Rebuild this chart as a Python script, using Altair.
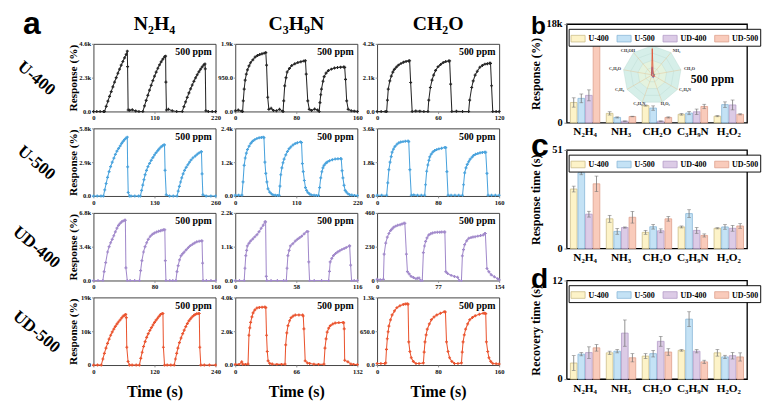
import altair as alt
import pandas as pd
import numpy as np

SERIF = "Liberation Serif"
SANS = "Liberation Sans"

ROWS = ["U-400", "U-500", "UD-400", "UD-500"]
COLS = ["N₂H₄", "C₃H₉N", "CH₂O"]
LINE_COLORS = ["#262626", "#4aa3dd", "#a28acb", "#ea5530"]
PPM = "500 ppm"

# ---- response curves: (time s, response %) ----
U400_N2H4 = [(0,0),(6,0),(12,0),(18,0),(20,0),(23,350),(26,700),(29,1030),(32,1350),(35,1680),(38,2000),(41,2300),(44,2600),(47,2880),(50,3150),(53,3400),(56,3650),(59,3880),(61,4100),(61.5,3050),(62.5,100),(65,80),(70,120),(76,40),(82,0),(89,0),(92,380),(95,750),(98,1100),(101,1450),(104,1780),(107,2100),(110,2400),(113,2680),(116,2940),(119,3170),(122,3380),(125,3560),(128,3720),(130,3760),(130.5,2000),(131.5,100),(135,150),(142,50),(150,0),(160,0),(163,330),(166,650),(169,960),(172,1260),(175,1540),(178,1800),(181,2050),(184,2290),(187,2500),(190,2700),(193,2880),(196,3040),(199,3180),(201,3230),(201.5,2900),(202.5,50),(207,0),(214,0),(220,0)]
U400_C3H9N = [(0,20),(4,40),(8,10),(9.6,0),(10.5,300),(11.7,630),(13,880),(14.5,1050),(16,1170),(18,1280),(20,1370),(23,1450),(26,1530),(29,1570),(32,1600),(35,1620),(38,1640),(40,1656),(41,1300),(42.5,400),(44,60),(47,90),(50,30),(54,20),(58,60),(62,10),(62.7,0),(63.5,300),(64.8,720),(66.5,950),(68,1110),(71,1210),(74,1290),(78,1340),(82,1375),(86,1400),(90,1420),(92,1425),(93,1050),(95,300),(97,60),(100,30),(104,70),(108,40),(110,0),(111,250),(112,470),(113,630),(115,850),(116.5,980),(119,1080),(122,1150),(126,1190),(130,1220),(134,1235),(138,1245),(142,1250),(143.4,1240),(144.5,900),(146,300),(148,60),(152,20),(156,10),(160,0)]
U400_CH2O = [(0,0),(4,0),(8,0),(9.4,0),(10.2,700),(11,1393),(12.5,1900),(14,2200),(15.5,2450),(17,2620),(19,2760),(21,2880),(23.5,2980),(26,3060),(28.5,3110),(31,3140),(32,3150),(33,1800),(34.5,0),(38,30),(42,20),(46,0),(50,0),(50.8,700),(52.4,1490),(54,1950),(55.6,2264),(57.5,2550),(60,2786),(62.5,2920),(65,3040),(67.5,3100),(70.3,3135),(71.3,3140),(72.3,1700),(73.5,0),(78,10),(84,0),(90,0),(91,700),(93,1490),(94.5,1900),(96.4,2264),(98.5,2500),(101,2748),(103.5,2860),(106,2941),(108.5,2970),(110.5,2990),(111.5,2990),(112.5,1600),(113.7,0),(117,0),(120,0)]
U500_N2H4 = [(0,0),(8,0),(16,0),(21.3,0),(24,520),(27,1070),(30,1600),(33.3,2094),(36.5,2520),(40,2900),(43.5,3250),(46.7,3571),(50,3850),(53.5,4080),(57,4300),(60,4510),(63,4680),(66,4830),(69,4950),(72,5048),(72.8,2500),(74,300),(76.7,0),(80,0),(88,0),(96,0),(100,0),(102.5,480),(105,940),(107.5,1400),(110,1826),(113,2200),(116,2520),(119.5,2800),(123,3060),(126.5,3300),(130,3520),(133.5,3720),(137,3900),(140,4050),(143.5,4200),(147,4310),(150,4376),(151.3,4380),(152.5,2200),(155,100),(162,0),(170,0),(178,0),(180.5,420),(183,820),(185.5,1200),(188,1557),(191,1900),(194,2200),(197.5,2460),(201,2680),(204.5,2900),(208,3100),(212,3280),(217,3437),(221,3580),(225,3700),(229,3786),(230,3800),(231.3,1900),(233,100),(240,0),(250,0),(260,0)]
U500_C3H9N = [(0,30),(6,30),(12,30),(14,500),(16,1088),(18,1350),(20,1520),(22,1650),(25,1770),(28,1870),(31,1940),(35,2000),(39,2040),(43,2065),(47,2080),(50.5,2087),(51.7,2070),(53.4,1200),(55,800),(57,500),(59,255),(62,140),(65,80),(68,40),(72,30),(76,20),(79,20),(80.5,350),(82,755),(84,1000),(86,1180),(88,1310),(91,1460),(94,1580),(97,1680),(100,1740),(104,1810),(108,1860),(112,1890),(117.6,1920),(119.4,1900),(121,1150),(122.5,866),(124.5,550),(126.5,300),(128.5,200),(131,120),(134,70),(137,40),(142,30),(146,20),(150,20),(152,300),(154,644),(156,860),(158,1000),(160,1090),(163,1160),(166,1210),(170,1254),(175,1290),(180,1310),(185,1320),(190,1332),(191,1310),(192.5,900),(194,644),(196,380),(198,200),(200,144),(203,80),(206,45),(210,33),(215,20),(220,15)]
U500_CH2O = [(0,40),(6,40),(12.6,40),(14,700),(15.5,1403),(17,1800),(18.5,2100),(19.7,2332),(21.5,2500),(23.5,2640),(26,2755),(28.5,2830),(31,2870),(34,2895),(37,2910),(40.6,2924),(41.5,2900),(43,1400),(44.8,40),(48,60),(53,40),(58,40),(62.4,40),(63.5,600),(65,1318),(66.5,1650),(68,1900),(69,2079),(71,2230),(73,2340),(75.4,2417),(78,2470),(81,2510),(84.5,2540),(88.8,2586),(90,2580),(91.5,1300),(93,40),(97,40),(102,40),(107,40),(112,40),(113.3,600),(114.8,1234),(116.5,1500),(118.2,1680),(120,1825),(122,1960),(124.5,2070),(126.5,2163),(129,2220),(132,2260),(135,2298),(138,2320),(141,2332),(142.4,2330),(144,1200),(145.4,40),(150,40),(155,40),(160,40)]
UD400_N2H4 = [(0,0),(6,0),(12.3,0),(14,900),(16,1800),(18.5,2871),(20.5,3400),(22.5,3800),(24.6,4147),(26.6,4500),(28.7,4900),(30.8,5263),(32.8,5550),(35,5750),(37,5901),(39,6000),(41,6061),(41.8,6061),(42.5,1276),(44.3,0),(48,0),(54,0),(60.3,0),(61.8,1000),(63.5,2000),(65.6,2871),(67.6,3400),(69.7,3800),(71.8,4147),(74.5,4450),(77.2,4650),(80,4785),(82.7,4880),(85.4,4950),(88,5008),(90,5060),(92,5104),(93.5,5104),(94.2,2000),(95,0),(100,0),(104,0),(108,0),(109.5,900),(111,1500),(112.8,2073),(114.8,2500),(116.9,2700),(119,2871),(121.7,3100),(124.4,3320),(127,3509),(129.8,3650),(132.6,3780),(135.4,3892),(138.5,3950),(141.5,3988),(142.3,3988),(143,1755),(143.6,0),(148,0),(154,0),(160,0)]
UD400_C3H9N = [(0,0),(4,0),(8.5,0),(9.2,400),(10,813),(10.8,980),(11.5,1126),(13,1210),(14.5,1283),(16.5,1350),(18.5,1420),(20.6,1491),(22.6,1590),(24.6,1700),(26.6,1800),(28.2,1909),(28.8,1909),(29.5,135),(30,0),(34,0),(40,0),(46,0),(48.5,0),(49.2,400),(50,813),(51.2,980),(52.4,1126),(54.7,1200),(57,1283),(59,1340),(61,1390),(63,1439),(65.5,1520),(68,1596),(69,1596),(69.8,605),(70.6,0),(75,0),(82,0),(88.7,0),(89.5,300),(90.2,605),(91.7,720),(93.3,813),(95.3,880),(97.3,930),(99.3,970),(101.3,1010),(103.4,1040),(105.4,1074),(108.4,1126),(108.7,1126),(109.6,500),(110.5,0),(113,0),(116,0)]
UD400_CH2O = [(0,8),(4,6),(8,8),(8.9,179),(10.9,255),(12.9,295),(14.9,320),(17,340),(19,352),(21,363),(23.5,370),(26,376),(29,380),(31.5,385),(33.9,389),(35,389),(37,179),(38.3,60),(40.5,45),(43,28),(46,20),(49,13),(51,15),(53,17),(55,0),(57,0),(58.4,190),(59.8,235),(61.2,266),(63,290),(65,309),(67.5,318),(70,324),(73,327),(76,328),(79,329),(81.5,330),(84.7,330),(85.5,330),(86.7,60),(89,48),(93.5,35),(97.5,28),(101.6,22),(103.6,0),(106.4,0),(107.6,168),(109,210),(110.4,244),(113,270),(115.7,287),(118.5,292),(121,296),(123.7,298),(127,302),(130.5,306),(133.8,309),(135.8,320),(136.6,320),(138.6,82),(141,60),(144,39),(148,25),(152,13),(154,5)]
UD500_N2H4 = [(0,0),(8,0),(15.4,0),(18.5,1700),(21.5,3300),(24.6,4770),(27.7,6100),(30.8,7300),(33.8,8370),(37,9300),(40,10100),(43,10850),(46,11520),(49,12100),(52.3,12650),(55.4,13230),(58.5,13770),(61,14000),(63.4,14220),(64.6,13320),(65.5,5000),(68,1000),(70.8,0),(76,0),(84,0),(90.4,0),(93,1900),(95.8,3600),(98.5,5220),(101.6,6600),(104.6,7800),(107.7,8820),(110.8,9700),(113.9,10500),(117,11250),(120,11970),(123,12600),(126,13150),(129,13700),(132,14220),(135,14490),(136.6,14490),(137.5,5000),(139.7,0),(145,0),(152,0),(158.8,0),(161.2,1700),(163.6,3300),(166,4770),(169,6300),(172.2,7600),(175.4,8820),(178.4,9800),(181.5,10800),(184.6,11650),(187.7,12420),(190.8,13000),(193.9,13500),(197,13900),(200,14220),(203,14400),(206,14490),(208,14490),(209,5000),(211,0),(218,0),(228,0),(240,0)]
UD500_C3H9N = [(0,40),(4,40),(7,190),(8,50),(11,40),(13.8,60),(14.8,1763),(15.7,2200),(16.6,2522),(18,2850),(19.3,3090),(21,3250),(23.4,3375),(26,3410),(29,3425),(32,3432),(33,3400),(33.8,1763),(34.6,800),(35.5,246),(37.3,95),(40,60),(45,40),(50,40),(53.8,50),(54.5,1194),(55.7,1900),(57,2332),(58.7,2620),(60.4,2806),(62.6,2900),(64.9,2958),(68.8,2965),(72.8,2958),(73.5,2900),(74.2,2142),(75.6,246),(78,120),(80.4,95),(85,50),(90,40),(95.9,50),(97,1005),(98.2,1550),(99.4,1953),(101,2180),(102.8,2332),(105.4,2430),(108,2483),(112,2510),(116.5,2522),(117.2,2500),(117.8,2142),(118.3,284),(121.8,190),(125,57),(128,40),(132,30)]
UD500_CH2O = [(0,30),(5,30),(10,30),(11.3,40),(12.3,300),(13.4,506),(14.5,640),(15.5,750),(17.6,870),(19.7,964),(22.8,1040),(26,1104),(30,1140),(34.3,1165),(37,1172),(39.4,1177),(40.6,1170),(41.5,445),(43,260),(44.8,140),(47.5,70),(51,30),(55,30),(60.7,40),(61.7,250),(62.8,445),(64.3,580),(65.8,689),(68.5,790),(71.2,872),(74.7,925),(78.3,964),(83,995),(88,1025),(89.6,1020),(91,445),(93,260),(95,140),(98,70),(101.4,30),(106,30),(110.6,40),(111.6,250),(112.7,445),(114.3,580),(116,689),(118.7,790),(121.5,872),(125,915),(128.6,946),(134,975),(139,994),(141,994),(142.4,990),(143.3,445),(145,260),(146.6,140),(149,70),(151.7,30),(156,25),(160,20)]

CURVES = [[U400_N2H4, U400_C3H9N, U400_CH2O],
          [U500_N2H4, U500_C3H9N, U500_CH2O],
          [UD400_N2H4, UD400_C3H9N, UD400_CH2O],
          [UD500_N2H4, UD500_C3H9N, UD500_CH2O]]

X_TICKS = [[[0,110,220],[0,80,160],[0,60,120]],
           [[0,130,260],[0,110,220],[0,80,160]],
           [[0,80,160],[0,58,116],[0,77,154]],
           [[0,120,240],[0,66,132],[0,80,160]]]
Y_TICKS = [[[0,2300,4600],[0,950,1900],[0,2100,4200]],
           [[0,2900,5800],[0,1200,2400],[0,1800,3600]],
           [[0,3400,6800],[0,1100,2200],[0,230,460]],
           [[0,9500,19000],[0,2000,4000],[0,650,1300]]]
Y_LABELS = [[["0.0","2.3k","4.6k"],["0.0","950.0","1.9k"],["0.0","2.1k","4.2k"]],
            [["0.0","2.9k","5.8k"],["0.0","1.2k","2.4k"],["0.0","1.8k","3.6k"]],
            [["0.0","3.4k","6.8k"],["0.0","1.1k","2.2k"],["0","230","460"]],
            [["0","10k","19k"],["0.0","2.0k","4.0k"],["0.0","650.0","1.3k"]]]

# ---- bar panels ----
GASES = ["N₂H₄", "NH₃", "CH₂O", "C₃H₉N", "H₂O₂"]
SERIES = ROWS
BAR_FILLS = ["#fdf3c8", "#c4e2f5", "#dccbe6", "#f9cbbb"]
BAR_EDGES = ["#c9bb85", "#86b4d6", "#b19ac6", "#dc9d8a"]

RESP = {"U-400": [3700, 1710, 3140, 1540, 1200],
        "U-500": [4450, 970, 2680, 1770, 3310],
        "UD-400": [5000, 290, 290, 2000, 3250],
        "UD-500": [14280, 1140, 970, 2970, 1540]}
RESP_ERR = {"U-400": [850, 300, 100, 150, 100],
            "U-500": [800, 100, 400, 300, 500],
            "UD-400": [1000, 50, 50, 500, 900],
            "UD-500": [0, 50, 100, 400, 100]}
RT = {"U-400": [30.8, 15.4, 8.4, 11.2, 10.5],
      "U-500": [39.2, 8.9, 11.3, 18.1, 11.2],
      "UD-400": [17.8, 10.9, 9.2, 9.4, 10.5],
      "UD-500": [33.5, 16.2, 15.4, 6.8, 11.7]}
RT_ERR = {"U-400": [1.5, 1.8, 1.0, 0.5, 0.3],
          "U-500": [1.0, 1.5, 1.2, 2.0, 1.2],
          "UD-400": [1.5, 0.3, 1.0, 1.5, 1.5],
          "UD-500": [4.0, 3.0, 1.2, 0.8, 1.2]}
REC = {"U-400": [1.96, 3.2, 2.8, 3.5, 3.2],
       "U-500": [3.04, 3.4, 3.1, 7.3, 2.7],
       "UD-400": [3.23, 5.6, 4.6, 3.4, 2.85],
       "UD-500": [3.81, 2.6, 3.3, 2.1, 2.7]}
REC_ERR = {"U-400": [0.9, 0.2, 0.3, 0.1, 0.4],
           "U-500": [0.2, 0.2, 0.4, 0.9, 0.2],
           "UD-400": [0.7, 1.6, 0.6, 0.2, 0.4],
           "UD-500": [0.4, 0.5, 0.4, 0.2, 0.5]}

# ---- radar inset ----
RADAR_AXES = ["N₂H₄", "NH₃", "CH₂O", "C₃H₉N", "H₂O₂", "C₅H₅N", "C₇H₈", "C₂H₆O", "CH₃OH"]
RADAR_LEVELS = [0.25, 0.5, 0.75, 1.0]
RADAR_VALUES = {"U-400": [0.20, 0.06, 0.10, 0.05, 0.04, 0.03, 0.03, 0.03, 0.03],
                "U-500": [0.25, 0.04, 0.08, 0.06, 0.10, 0.03, 0.03, 0.03, 0.03],
                "UD-400": [0.28, 0.03, 0.03, 0.07, 0.10, 0.03, 0.03, 0.03, 0.03],
                "UD-500": [0.90, 0.05, 0.04, 0.10, 0.05, 0.03, 0.03, 0.03, 0.03]}
RADAR_COLORS = ["#f0c04a", "#3b82c4", "#9b7cc0", "#e0452a"]


def lab_expr(vals, labs):
    expr = "'" + labs[-1] + "'"
    for v, l in zip(reversed(vals[:-1]), reversed(labs[:-1])):
        expr = f"datum.value == {v} ? '{l}' : ({expr})"
    return expr


def text_chart(s, **kw):
    return alt.Chart(pd.DataFrame({"s": [s]})).mark_text(**kw).encode(text="s:N")


def anchor(x, y):
    # invisible point that fixes the layout bounds of a panel
    return alt.Chart(pd.DataFrame({"k": [0]})).mark_point(size=1, opacity=0).encode(
        x=alt.value(x), y=alt.value(y))


PW, PH, GAP = 130, 72, 21


def line_panel(r, c):
    df = pd.DataFrame(CURVES[r][c], columns=["t", "v"])
    xt, yt, yl = X_TICKS[r][c], Y_TICKS[r][c], Y_LABELS[r][c]
    color = LINE_COLORS[r]
    xax = alt.Axis(values=xt, format="d", labelFont=SERIF, labelFontWeight="bold", labelFontSize=7,
                   labelPadding=1, tickSize=2, domain=False, grid=False, labelFlush=False,
                   labelOverlap=False, labelColor="#111",
                   title="Time (s)" if r == 3 else None, titleFont=SERIF, titleFontWeight="bold",
                   titleFontSize=17, titleX=PW / 2, titleY=34, titleBaseline="alphabetic",
                   titleAlign="center")
    yax = alt.Axis(values=yt, labelExpr=lab_expr(yt, yl), labelFont=SERIF, labelFontWeight="bold",
                   labelFontSize=7, labelPadding=1, tickSize=2, domain=False, grid=False,
                   labelOverlap=False, labelColor="#111",
                   title="Response (%)" if c == 0 else None, titleFont=SERIF, titleFontWeight="bold",
                   titleFontSize=12, titleX=-22, titleY=PH / 2, titleBaseline="middle",
                   titleAlign="center", titleAngle=270)
    X = alt.X("t:Q", scale=alt.Scale(domain=[0, xt[-1]], nice=False, zero=False), axis=xax)
    Y = alt.Y("v:Q", scale=alt.Scale(domain=[0, yt[-1]], nice=False), axis=yax)
    base = alt.Chart(df)
    layers = [
        base.mark_line(color=color, strokeWidth=1.1).encode(x=X, y=Y),
        base.mark_point(shape="cross", filled=True, size=10, color=color, opacity=1).encode(x=X, y=Y),
        text_chart(PPM, font=SERIF, fontWeight="bold", fontSize=10.5, align="right",
                   baseline="alphabetic", color="black").encode(x=alt.value(PW - 4), y=alt.value(12)),
    ]
    if c == 0:
        layers.append(text_chart(ROWS[r], font=SERIF, fontWeight="bold", fontSize=18, align="center",
                                 baseline="middle", angle=40, color="black")
                      .encode(x=alt.value(-61), y=alt.value(PH / 2 + 1)))
        layers.append(anchor(-90, -6))
        layers.append(anchor(-90, PH + 11))
    if c == 2:
        layers.append(anchor(PW + 8, PH / 2))
    return alt.layer(*layers).properties(width=PW, height=PH)


def header():
    # panel letter "a" and the gas column titles, above the first row
    parts = [text_chart("a", font=SANS, fontWeight="bold", fontSize=34, align="left",
                        baseline="alphabetic", color="black").encode(x=alt.value(-75), y=alt.value(10))]
    for c, name in enumerate(COLS):
        parts.append(text_chart(name, font=SERIF, fontWeight="bold", fontSize=21, align="center",
                                baseline="alphabetic", color="black")
                     .encode(x=alt.value(c * (PW + GAP) + PW / 2), y=alt.value(6)))
    parts.append(anchor(0, 20))
    return alt.layer(*parts).properties(width=3 * PW + 2 * GAP, height=1,
                                        view=alt.ViewBackground(stroke="transparent"))


BW, BH = 192, 105


def radar_layer():
    xs = alt.Scale(domain=[-1, 1], range=[60, 122])
    ys = alt.Scale(domain=[-1, 1], range=[85, 23])
    ang = 2 * np.pi * np.arange(9) / 9
    poly = "M" + "L".join(f"{np.sin(a):.4f},{-np.cos(a):.4f}" for a in ang) + "Z"
    center = pd.DataFrame({"cx": [0.0], "cy": [0.0]})
    bg = alt.Chart(center).mark_point(shape=poly, filled=True, fill="#d6efe9", opacity=1,
                                      strokeWidth=0).encode(
        x=alt.X("cx:Q", scale=xs, axis=None), y=alt.Y("cy:Q", scale=ys, axis=None),
        size=alt.value(62 * 62))
    bg2 = alt.Chart(center).mark_point(shape=poly, filled=True, fill="#e4f3df", opacity=1,
                                       strokeWidth=0).encode(
        x=alt.X("cx:Q", scale=xs, axis=None), y=alt.Y("cy:Q", scale=ys, axis=None),
        size=alt.value(31 * 31))
    ring_df = pd.DataFrame([(lv, i) for lv in RADAR_LEVELS for i in range(10)], columns=["lv", "idx"])
    rings = alt.Chart(ring_df).transform_calculate(
        rx="datum.lv*sin(2*PI*datum.idx/9)", ry="datum.lv*cos(2*PI*datum.idx/9)"
    ).mark_line(color="#b7d8cf", strokeWidth=0.4).encode(
        x=alt.X("rx:Q", scale=xs, axis=None), y=alt.Y("ry:Q", scale=ys, axis=None),
        detail="lv:N", order="idx:Q")
    ax_df = pd.DataFrame({"name": RADAR_AXES, "idx": list(range(9))})
    spokes = alt.Chart(ax_df).transform_calculate(
        x0="0", y0="0", rx="sin(2*PI*datum.idx/9)", ry="cos(2*PI*datum.idx/9)"
    ).mark_rule(color="#e3c293", strokeWidth=0.5).encode(
        x=alt.X("x0:Q", scale=xs, axis=None), y=alt.Y("y0:Q", scale=ys, axis=None),
        x2="rx:Q", y2="ry:Q")
    labels = alt.Chart(ax_df).transform_calculate(
        rx="1.3*sin(2*PI*datum.idx/9)", ry="1.06*cos(2*PI*datum.idx/9)"
    ).mark_text(font=SERIF, fontWeight="bold", fontSize=4.5, color="#333").encode(
        x=alt.X("rx:Q", scale=xs, axis=None), y=alt.Y("ry:Q", scale=ys, axis=None), text="name:N")
    rec = []
    for s, vals in RADAR_VALUES.items():
        for i in range(10):
            rec.append({"rseries": s, "idx": i, "val": vals[i % 9]})
    rdf = pd.DataFrame(rec)
    lines = alt.Chart(rdf).transform_calculate(
        rx="datum.val*sin(2*PI*datum.idx/9)", ry="datum.val*cos(2*PI*datum.idx/9)"
    ).mark_line(strokeWidth=0.8).encode(
        x=alt.X("rx:Q", scale=xs, axis=None), y=alt.Y("ry:Q", scale=ys, axis=None),
        order="idx:Q",
        color=alt.Color("rseries:N", sort=SERIES,
                        scale=alt.Scale(domain=SERIES, range=RADAR_COLORS),
                        legend=alt.Legend(title=None, orient="none", legendX=121, legendY=21,
                                          symbolType="stroke", symbolSize=50, symbolStrokeWidth=0.9,
                                          labelFont=SERIF, labelFontWeight="bold", labelFontSize=4.5,
                                          rowPadding=0, labelOffset=2, padding=0)))
    return alt.layer(bg, bg2, rings, spokes, lines, labels)


def bar_panel(vals, errs, ymax, yticks, ylabels, ytitle, letter, lsize, ly, top_anchor, radar=False):
    rec = []
    for s in SERIES:
        for g, v, e in zip(GASES, vals[s], errs[s]):
            rec.append({"gas": g, "series": s, "val": v, "err": e, "lo": v - e, "hi": v + e})
    df = pd.DataFrame(rec)
    base = alt.Chart(df)
    X = alt.X("gas:N", sort=GASES, scale=alt.Scale(paddingInner=0.18, paddingOuter=0.1),
              axis=alt.Axis(title=None, labelAngle=0, labelFont=SERIF, labelFontWeight="bold",
                            labelFontSize=12, labelPadding=4, tickSize=0, domain=False,
                            labelColor="black"))
    XO = alt.XOffset("series:N", sort=SERIES, scale=alt.Scale(paddingInner=0.12))
    ysc = alt.Scale(domain=[0, ymax], nice=False)
    yax = alt.Axis(values=yticks, labelExpr=lab_expr(yticks, ylabels), labelFont=SERIF,
                   labelFontWeight="bold", labelFontSize=11, labelPadding=2, tickSize=3,
                   domain=False, grid=False, labelColor="black", labelOverlap=False,
                   title=ytitle, titleFont=SERIF, titleFontWeight="bold", titleFontSize=13,
                   titleX=-33, titleY=BH / 2, titleBaseline="middle", titleAlign="center",
                   titleAngle=270)
    leg = alt.Legend(title=None, orient="none", legendX=2, legendY=5, direction="horizontal",
                     columns=4, symbolType="M-1,-0.47H1V0.47H-1Z", symbolSize=225,
                     symbolStrokeWidth=0.8, symbolOpacity=1, labelFont=SERIF, labelFontWeight="bold",
                     labelFontSize=8.5, labelOffset=3, columnPadding=6, padding=2,
                     strokeColor="black", fillColor="white")
    bars = base.mark_bar(strokeWidth=0.8).encode(
        x=X, xOffset=XO, y=alt.Y("val:Q", scale=ysc, axis=yax),
        fill=alt.Fill("series:N", sort=SERIES, scale=alt.Scale(domain=SERIES, range=BAR_FILLS), legend=leg),
        stroke=alt.Stroke("series:N", sort=SERIES, scale=alt.Scale(domain=SERIES, range=BAR_EDGES), legend=leg))
    eb = base.transform_filter("datum.err > 0")
    rule = eb.mark_rule(color="#707070", strokeWidth=0.8).encode(
        x=X, xOffset=XO, y=alt.Y("lo:Q", scale=ysc, title=ytitle), y2="hi:Q")
    cap_lo = eb.mark_tick(color="#707070", thickness=0.8, size=4).encode(
        x=X, xOffset=XO, y=alt.Y("lo:Q", scale=ysc, title=ytitle))
    cap_hi = eb.mark_tick(color="#707070", thickness=0.8, size=4).encode(
        x=X, xOffset=XO, y=alt.Y("hi:Q", scale=ysc, title=ytitle))
    let = text_chart(letter, font=SANS, fontWeight="bold", fontSize=lsize, align="left",
                     baseline="alphabetic", color="black").encode(x=alt.value(-38), y=alt.value(ly))
    parts = [bars, rule, cap_lo, cap_hi, let,
             anchor(-41, -top_anchor), anchor(-41, BH + 18)]
    if radar:
        parts.append(text_chart(PPM, font=SERIF, fontWeight="bold", fontSize=12.5, align="right",
                                baseline="alphabetic", color="black")
                     .encode(x=alt.value(178), y=alt.value(63)))
    main = alt.layer(*parts)
    view = alt.ViewBackground(stroke="black", strokeWidth=1.4)
    if radar:
        return alt.layer(main, radar_layer()).resolve_scale(
            x="independent", y="independent").properties(width=BW, height=BH, view=view)
    return main.properties(width=BW, height=BH, view=view)


rows = [alt.hconcat(*[line_panel(r, c) for c in range(3)], spacing=GAP, bounds="flush") for r in range(4)]
rows_block = alt.vconcat(*rows, spacing=-1)
left = alt.vconcat(header(), rows_block, spacing=-21)

pb = bar_panel(RESP, RESP_ERR, 18000, [0, 6000, 12000, 18000], ["0", "6k", "12k", "18k"],
               "Response (%)", "b", 26, 10, 17, radar=True)
pc = bar_panel(RT, RT_ERR, 51, [0, 17, 34, 51], ["0", "17", "34", "51"],
               "Response time (s)", "c", 34, 6, 30)
pd_ = bar_panel(REC, REC_ERR, 12, [0, 4, 8, 12], ["0", "4", "8", "12"],
                "Recovery time (s)", "d", 30, 8, 35)
right = alt.vconcat(pb, pc, pd_, spacing=-23).resolve_scale(
    fill="independent", stroke="independent", color="independent").resolve_legend(
    fill="independent", stroke="independent", color="independent")

chart = alt.hconcat(left, right, spacing=20).resolve_scale(color="independent").resolve_legend(
    color="independent").properties(
    padding={"left": 0, "top": -15, "right": 2, "bottom": 2}
).configure(font=SERIF).configure_view(stroke="#3a3a3a", strokeWidth=1)

chart.save("out.html", embed_options={"renderer": "svg", "actions": False})
